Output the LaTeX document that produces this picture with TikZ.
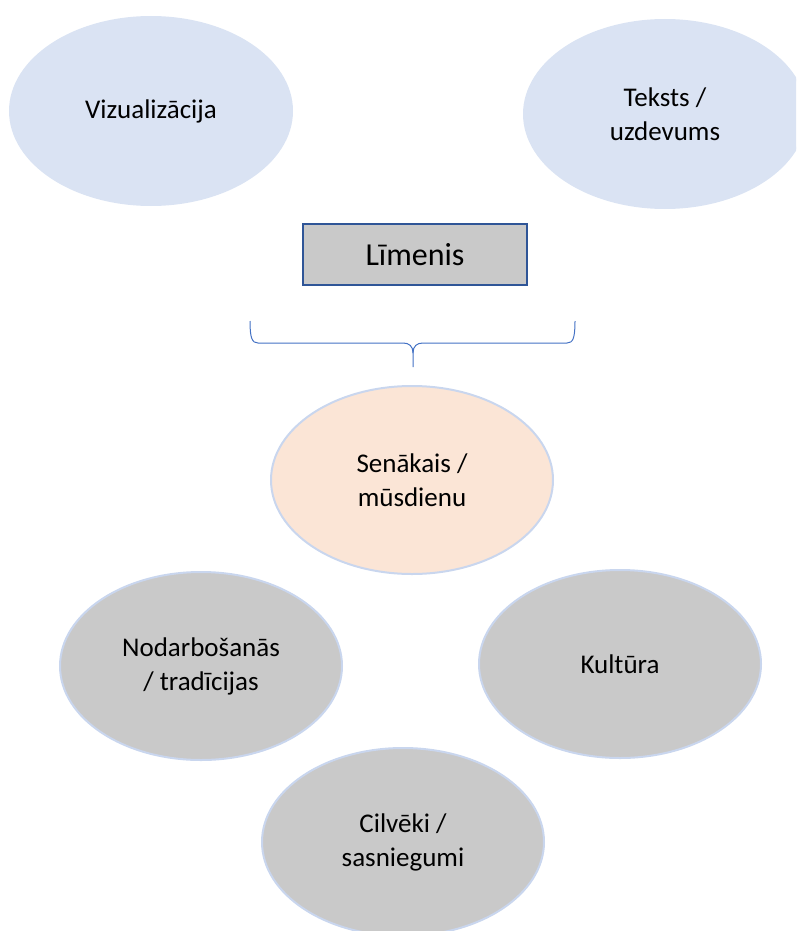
\documentclass[tikz,border=0pt]{standalone}
\usepackage{fontspec}
\setmainfont{Carlito}
\usetikzlibrary{shapes.geometric}
\definecolor{paleblue}{HTML}{DAE3F3}
\definecolor{rimblue}{HTML}{C9D6EE}
\definecolor{peach}{HTML}{FBE5D6}
\definecolor{greyfill}{HTML}{C9C9C9}
\definecolor{darkblue}{HTML}{2F5597}
\definecolor{bracecol}{HTML}{4472C4}
\tikzset{
  bubble/.style={ellipse, minimum width=282pt, minimum height=188pt, inner sep=0pt,
    align=center, font=\fontsize{27}{34}\selectfont, line width=2pt},
  topbubble/.style={bubble, fill=paleblue, draw=paleblue},
  midbubble/.style={bubble, fill=peach, draw=rimblue},
  lowbubble/.style={bubble, fill=greyfill, draw=rimblue},
  levelbox/.style={rectangle, minimum width=224pt, minimum height=61pt, inner sep=0pt,
    fill=greyfill, draw=darkblue, line width=2pt, font=\fontsize{32}{38}\selectfont},
  brace/.style={draw=bracecol, line width=1pt}
}
\begin{document}
\begin{tikzpicture}[x=1pt,y=-1pt]
  \useasboundingbox (0,0) rectangle (796,931);
  \begin{scope}
    \clip (0,0) rectangle (796,931);
    \node[topbubble] (vis) at (151,111) {Vizualizācija};
    \node[topbubble] (text) at (665,114) {Teksts /\\uzdevums};
    \node[levelbox] (level) at (415,254.5) {Līmenis};
    \node[midbubble] (era) at (412,480) {Senākais /\\mūsdienu};
    \node[lowbubble] (work) at (201,666) {Nodarbošanās\\/ tradīcijas};
    \node[lowbubble] (culture) at (620,664) {Kultūra};
    \node[lowbubble] (people) at (403,842) {Cilvēki /\\sasniegumi};
    % curly brace under the level box
    \coordinate (bl) at (250,321);
    \coordinate (br) at (575,321);
    \coordinate (tip) at (413,367);
    \draw[brace] (bl) .. controls (250,338) and (252,343) .. (258,343)
      -- (403,343) .. controls (409,343) and (413,346) .. (413,353) -- (tip);
    \draw[brace] (br) .. controls (575,338) and (573,343) .. (567,343)
      -- (423,343) .. controls (417,343) and (413,346) .. (413,353);
  \end{scope}
\end{tikzpicture}
\end{document}
